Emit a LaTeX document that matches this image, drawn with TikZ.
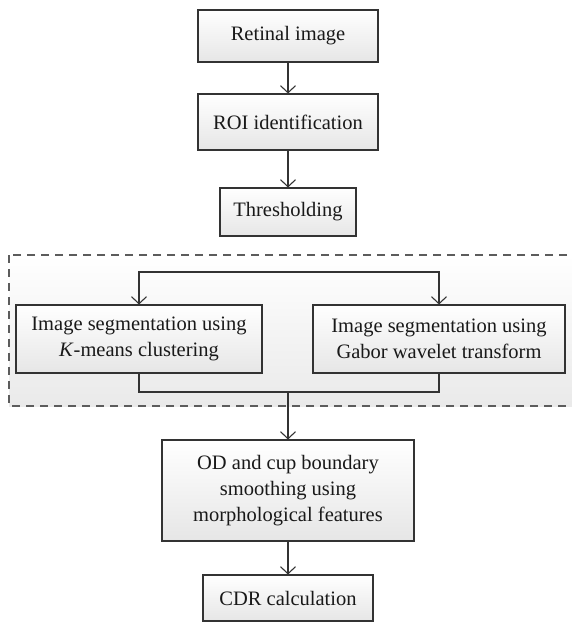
\documentclass[tikz,border=0pt]{standalone}
\usepackage{fontspec}
\setmainfont{Liberation Serif}
\usetikzlibrary{arrows.meta,positioning}
\definecolor{edge}{HTML}{333333}
\definecolor{shade}{HTML}{E6E6E6}

\begin{document}
\begin{tikzpicture}[
  x=1pt, y=-1pt,
  >={Straight Barb[length=7pt,width=15pt]},
  every node/.style={font=\fontsize{20.5}{26}\selectfont, text=black!90},
  box/.style={draw=edge, line width=1.1pt, align=center, inner sep=0pt, top color=white, bottom color=shade},
  link/.style={draw=edge, line width=1.1pt},
  region/.style={draw=edge!80, line width=1.2pt, dash pattern=on 8pt off 6pt, top color=white, bottom color=shade!85}
]
\useasboundingbox (0,0) rectangle (571,624);
% dashed segmentation block
\path[region] (9,255) rectangle (585,406);
\node[box, minimum width=180pt, minimum height=52pt] (retina) at (288,36) {Retinal image};
\node[box, minimum width=180pt, minimum height=56pt] (roi) at (288,122) {ROI identification};
\node[box, minimum width=136pt, minimum height=48pt] (thresh) at (288,212) {Thresholding};
\node[box, minimum width=246pt, minimum height=68pt] (kmeans) at (139,339) {Image segmentation using\\\textit{K}-means clustering};
\node[box, minimum width=252pt, minimum height=68pt] (gabor) at (439,339) {Image segmentation using\\Gabor wavelet transform};
\node[box, minimum width=252pt, minimum height=101pt] (od) at (288,490.5) {OD and cup boundary\\smoothing using\\morphological features};
\node[box, minimum width=170pt, minimum height=46pt] (cdr) at (288,598) {CDR calculation};
\coordinate (split) at (288,272);
\coordinate (join) at (288,392);
\draw[link,->] (retina) -- (roi);
\draw[link,->] (roi) -- (thresh);
\draw[link,<->] (kmeans.north) |- (split) -| (gabor.north);
\draw[link] (kmeans.south) |- (join) -| (gabor.south);
\draw[link,->] (join) -- (od);
\draw[link,->] (od) -- (cdr);
\end{tikzpicture}
\end{document}
